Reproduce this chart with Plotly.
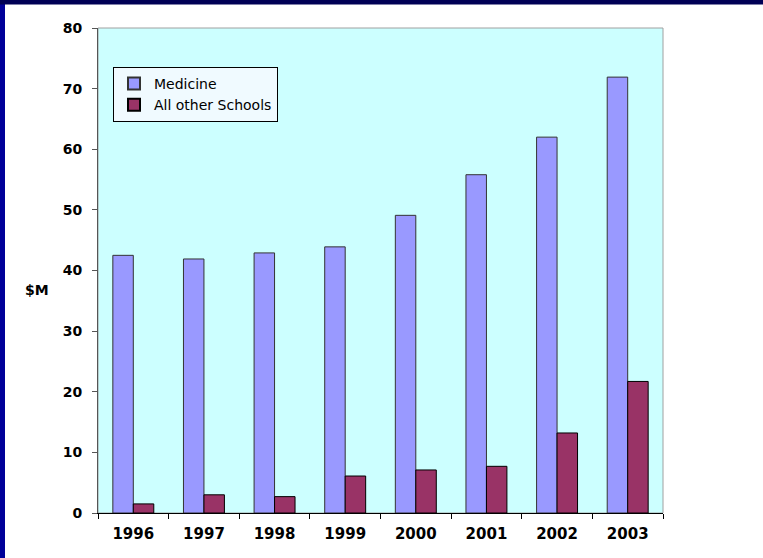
import plotly.graph_objects as go

years = ["1996", "1997", "1998", "1999", "2000", "2001", "2002", "2003"]
medicine = [42.5, 41.9, 42.9, 43.9, 49.1, 55.8, 62.0, 71.9]
other_schools = [1.5, 3.0, 2.7, 6.1, 7.1, 7.7, 13.2, 21.7]
y_ticks = [0, 10, 20, 30, 40, 50, 60, 70, 80]

fig = go.Figure()
fig.add_trace(go.Bar(x=years, y=medicine, name="Medicine",
                     marker=dict(color="#9999FF", line=dict(color="#333333", width=1))))
fig.add_trace(go.Bar(x=years, y=other_schools, name="All other Schools",
                     marker=dict(color="#993366", line=dict(color="#000000", width=1))))

W, H = 763, 558
L, R, T, B = 98, 100, 28, 45
pw, ph = W - L - R, H - T - B

def px_x(p):
    return (p - L) / pw

def px_y(p):
    return (H - B - p) / ph

fig.update_layout(
    width=W, height=H,
    margin=dict(l=L, r=R, t=T, b=B),
    paper_bgcolor="white",
    plot_bgcolor="#CCFFFF",
    barmode="group",
    bargap=0.42,
    bargroupgap=0,
    showlegend=True,
    legend=dict(x=px_x(113), y=px_y(67), xanchor="left", yanchor="top",
                bgcolor="#F0FAFF", bordercolor="#000000", borderwidth=1,
                font=dict(family="DejaVu Sans", size=14, color="black"),
                itemsizing="constant", tracegroupgap=0),
    xaxis=dict(type="category", tickson="boundaries", ticks="outside", ticklen=5,
               tickcolor="#000000", showline=True, linecolor="#000000", linewidth=1,
               showgrid=False, ticklabelstandoff=7,
               tickfont=dict(family="DejaVu Sans", size=15, color="black", weight="bold")),
    yaxis=dict(range=[0, 80], tickvals=y_ticks, ticks="outside", ticklen=5,
               tickcolor="#555555", showline=True, linecolor="#555555", linewidth=1,
               showgrid=False, zeroline=False, ticklabelstandoff=7,
               tickfont=dict(family="DejaVu Sans", size=14, color="black", weight="bold")),
    annotations=[dict(text="<b>$M</b>", xref="paper", yref="paper",
                      x=px_x(37), y=px_y(290), xanchor="center", yanchor="middle",
                      showarrow=False,
                      font=dict(family="DejaVu Sans", size=14, color="black"))],
    shapes=[
        dict(type="rect", xref="paper", yref="paper", x0=0, x1=1, y0=0, y1=1,
             line=dict(color="#A0A0A0", width=1), layer="below"),
        dict(type="rect", xref="paper", yref="paper", x0=px_x(0), x1=px_x(5),
             y0=px_y(H), y1=px_y(0), line=dict(width=0), fillcolor="#000099"),
        dict(type="rect", xref="paper", yref="paper", x0=px_x(0), x1=px_x(W),
             y0=px_y(4.5), y1=px_y(0), line=dict(width=0), fillcolor="#000055"),
    ],
)

fig.write_html("out.html", config={"displayModeBar": False},
               post_script="document.body.style.margin='0';document.body.style.padding='0';")
